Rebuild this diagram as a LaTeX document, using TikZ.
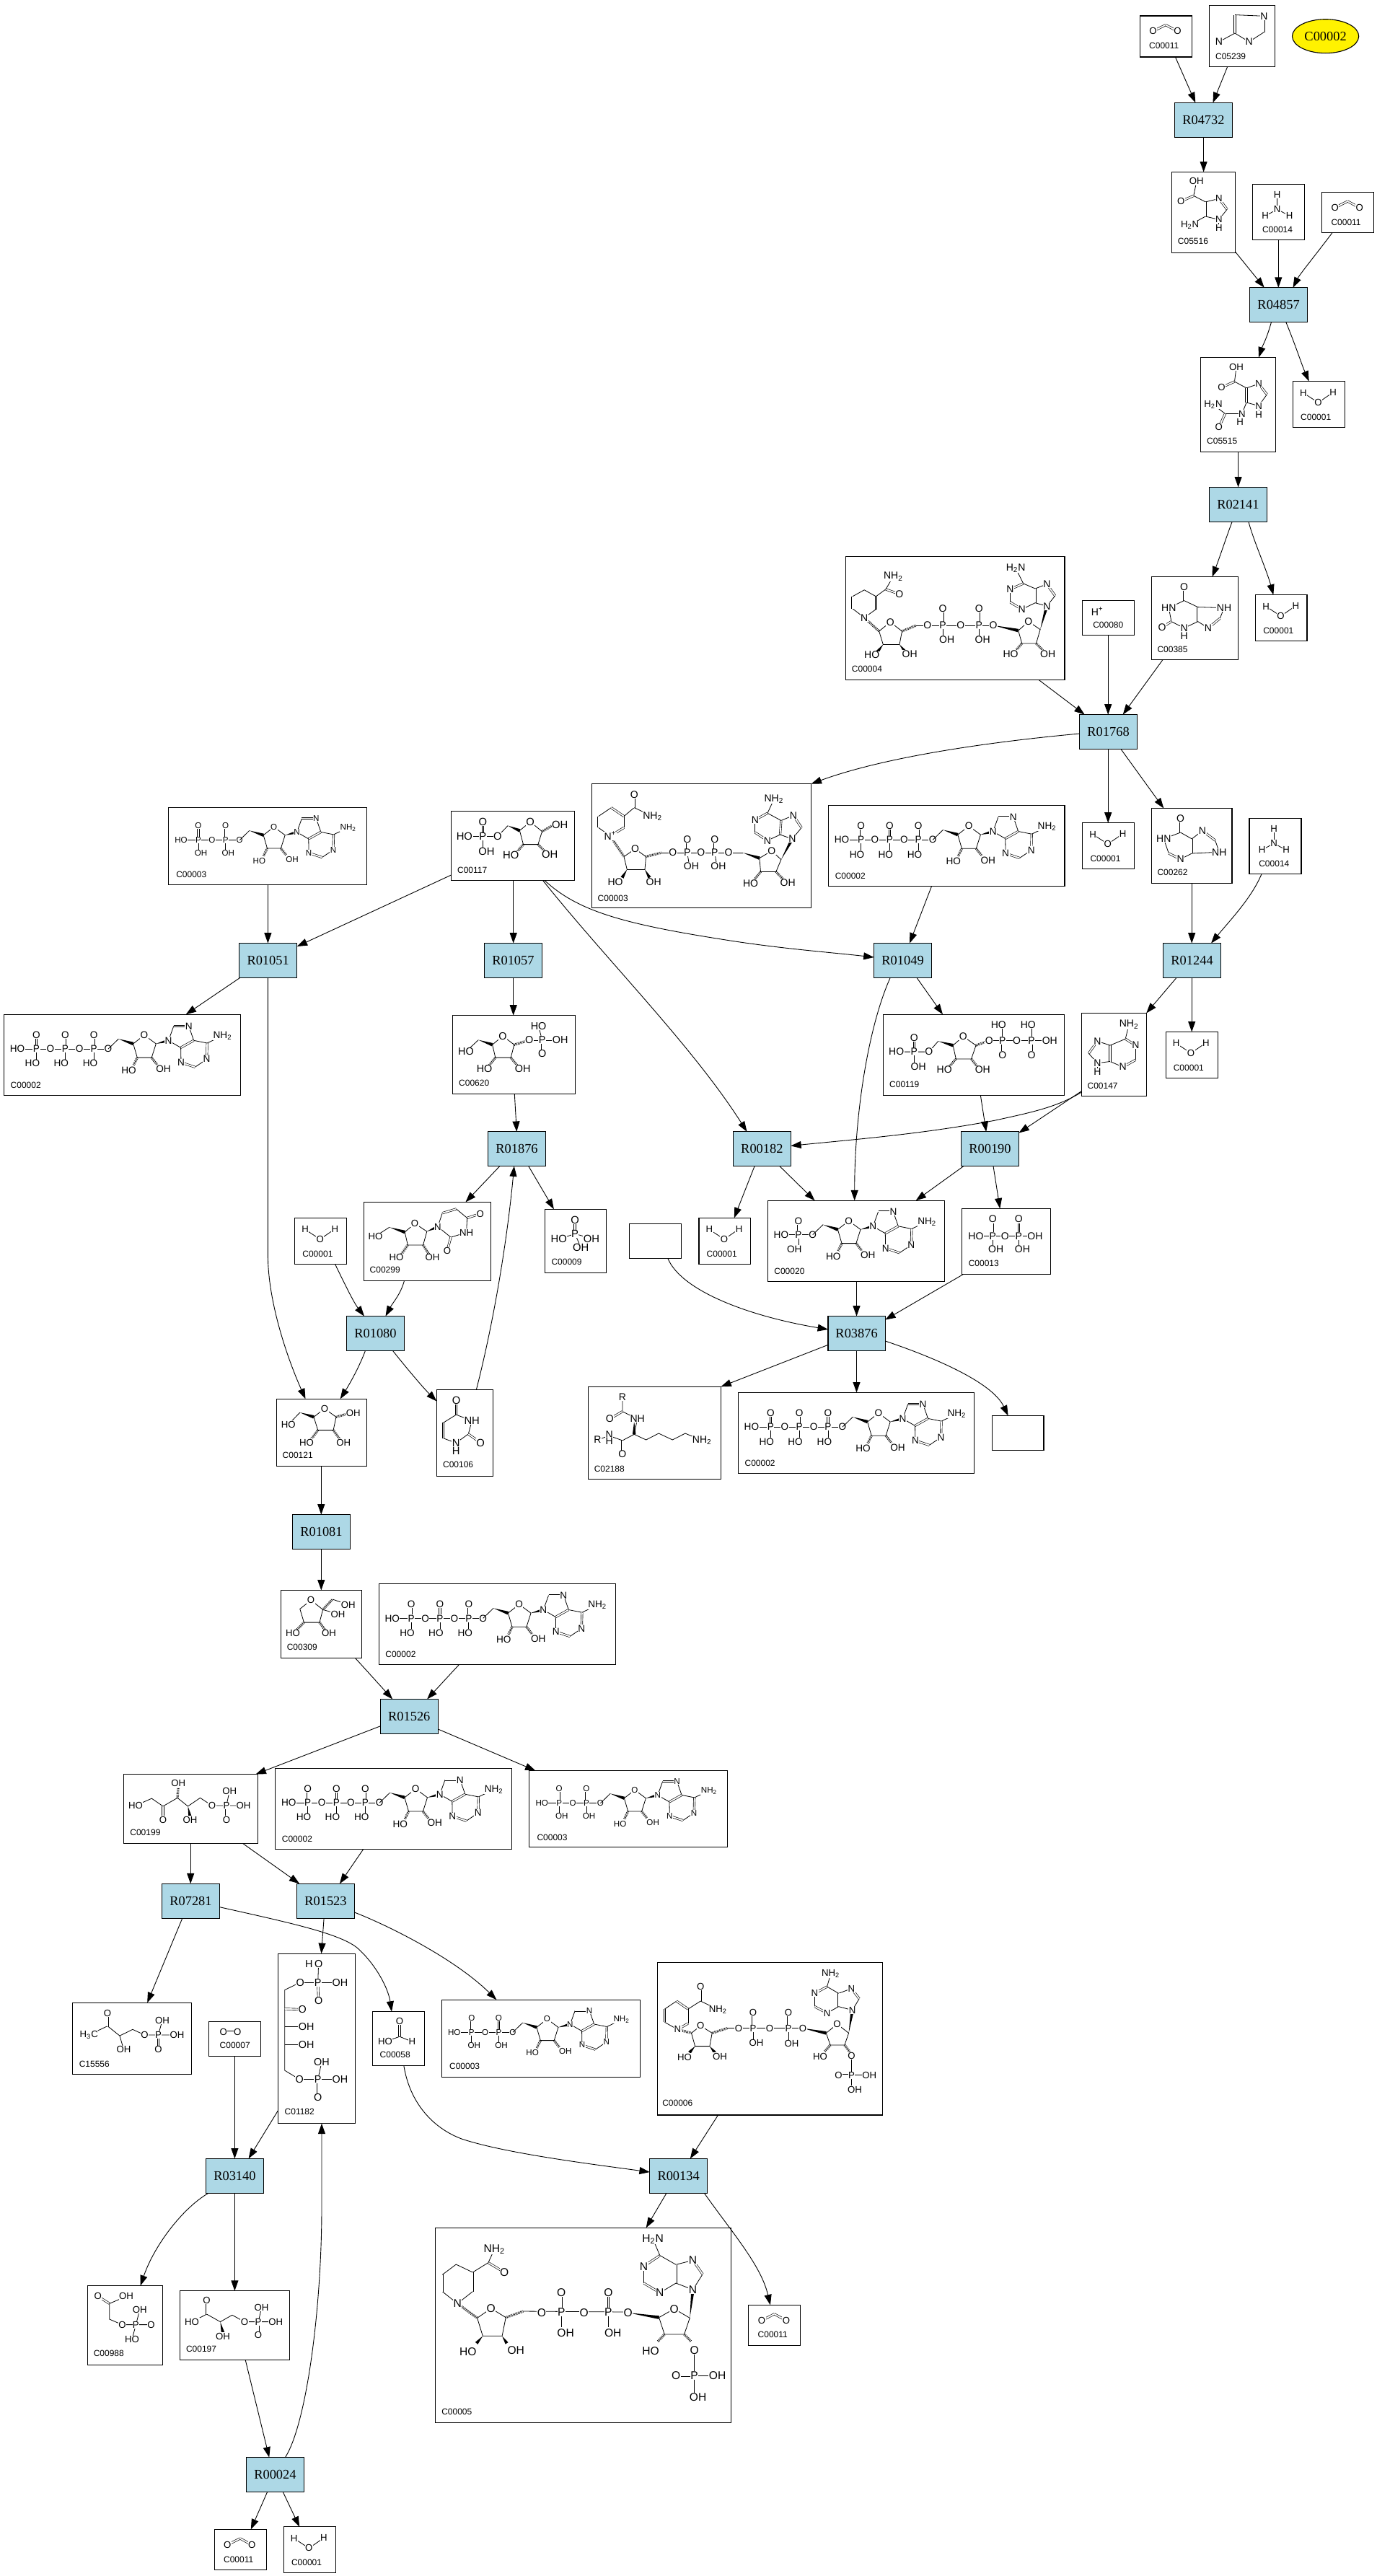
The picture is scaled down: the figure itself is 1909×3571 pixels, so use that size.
\documentclass[tikz,border=0pt]{standalone}
\usepackage{fontspec}
\setmainfont{Liberation Serif}
\newfontfamily\atf{Liberation Sans}
\usetikzlibrary{arrows.meta,calc,shapes.geometric}
\newcount\atomno
\def\atsz{6.6}
\tikzset{
  cpd/.style={draw=black,fill=white,line width=.55pt,rectangle,inner sep=0pt,outer sep=0pt},
  rxn/.style={draw=black,fill=rxnblue,line width=.55pt,rectangle,inner sep=0pt,outer sep=0pt,font=\fontsize{9.2}{11}\selectfont},
  rxnedge/.style={draw=black,line width=.45pt,-{Triangle[length=7.2pt,width=5pt]}},
  bond/.style={draw=black,line width=.4pt},
  dbl/.style={draw=black,line width=.33pt,double,double distance=.9pt},
  hashb/.style={draw=black,line width=1.7pt,dash pattern=on .35pt off .55pt},
  atomlbl/.style={font=\atf\fontsize{\atsz}{\atsz}\selectfont,inner sep=.25pt,fill=white},
  idlbl/.style={font=\atf\fontsize{6}{7}\selectfont,inner sep=0pt,anchor=west}
}
\definecolor{rxnblue}{HTML}{ADD8E6}
\newcommand{\mAt}[2]{\global\advance\atomno by 1 \node[atomlbl] (atom\the\atomno) at (#1) {#2};}
\newcommand{\mLb}[2]{\global\advance\atomno by 1 \node[idlbl] (atom\the\atomno) at (#1) {#2};}
\newcommand{\mB}[1]{\draw[bond] #1;}
\newcommand{\mD}[1]{\draw[dbl] #1;}
\newcommand{\mW}[2]{\fill ($(#1)$) -- ($(#2)!1.15pt!90:(#1)$) -- ($(#2)!-1.15pt!90:(#1)$) -- cycle;}
\newcommand{\mH}[2]{\draw[hashb] (#1) -- (#2);}
\newcommand{\cbox}[5]{\node[cpd,minimum width={(#4-#2)*0.5pt},minimum height={(#5-#3)*0.5pt}] (#1) at ({(#2+#4)/2},{(#3+#5)/2}) {};}
\newcommand{\rbox}[5]{\node[rxn,minimum width={(#4-#2)*0.5pt},minimum height={(#5-#3)*0.5pt}] (#1) at ({(#2+#4)/2},{(#3+#5)/2}) {#1};}
\newcommand{\inbox}[2]{\begin{scope}[shift={(#1.north west)}]#2\end{scope}}
\newcommand{\NHtwo}{NH\textsubscript{2}}
\newcommand{\HtwoN}{H\textsubscript{2}N}
% --- small molecules
\newcommand{\mCOtwo}{\mD{(18,21.4)--(35.6,12.5)}\mD{(35.6,12.5)--(52,21.4)}\mAt{18,21.4}{O}\mAt{52,21.4}{O}\mLb{12.4,41.5}{C00011}}
\newcommand{\mWater}{\mB{(14.4,16)--(35,29.5)--(55.7,15.2)}\mAt{14.4,16}{H}\mAt{35,29.5}{O}\mAt{55.7,15.2}{H}\mLb{10.3,49.6}{C00001}}
\newcommand{\mAmmonia}{\mB{(34,14.7)--(34,34.8)}\mB{(17.5,43.8)--(34,34.8)--(51,43.8)}\mAt{34,14.7}{H}\mAt{34,34.8}{N}\mAt{17.5,43.8}{H}\mAt{51,43.8}{H}\mLb{12.9,62.5}{C00014}}
% --- adenosine, origin at the 5'-O
\newcommand{\mAdo}{%
 \mB{(0,0)--(14.3,-13.9)}\mW{14.3,-13.9}{34.7,-7.2}
 \mB{(34.7,-7.2)--(50,-19.2)--(66.3,-7.2)--(60.2,12)--(40.3,12)--cycle}
 \mH{40.3,12}{35,23}\mH{60.2,12}{68,22}\mW{66.3,-7.2}{83.6,-11.6}
 \mB{(83.6,-11.6)--(90.8,-31.7)}\mD{(90.8,-31.7)--(111.7,-31.7)}\mB{(111.7,-31.7)--(118.6,-11.8)}
 \mD{(118.6,-11.8)--(100.6,-1.8)}\mB{(100.6,-1.8)--(83.6,-11.6)}\mB{(118.6,-11.8)--(137.2,-8.1)}
 \mD{(137.2,-8.1)--(136.6,14.2)}\mB{(136.6,14.2)--(120.4,25.2)}\mD{(120.4,25.2)--(101,18.7)}\mB{(101,18.7)--(100.6,-1.8)}
 \mB{(137.2,-8.1)--(158.6,-18.3)}
 \mAt{50,-19.2}{O}\mAt{83.6,-11.6}{N}\mAt{111.7,-31.7}{N}\mAt{136.6,14.2}{N}\mAt{101,18.7}{N}\mAt{158.6,-18.3}{\NHtwo}
 \mAt{28.6,29.9}{HO}\mAt{76.6,28.1}{OH}}
\newcommand{\mATP}{\def\atsz{6.8}%
 \mB{(18.4,47.8)--(144.4,47.8)}
 \foreach \px/\hx in {44.9/39.3,84.7/79.1,124.5/119.4}{\mD{(\px,28.1)--(\px,47.8)}\mB{(\px,47.8)--(\px,66)}\mAt{\px,28.1}{O}\mAt{\px,47.8}{P}\mAt{\hx,67.9}{HO}}
 \mAt{18.4,47.8}{HO}\mAt{64.3,47.8}{O}\mAt{104.6,47.8}{O}\mAt{144.4,47.8}{O}
 \begin{scope}[shift={(144.4,47.8)}]\mAdo\end{scope}
 \mLb{8.7,97.8}{C00002}}
\newcommand{\mADP}{\def\atsz{5.8}%
 \mB{(17.3,45)--(98.5,45)}
 \foreach \px/\hx in {41.3/44.9,79/82.6}{\mD{(\px,25)--(\px,45)}\mB{(\px,45)--(\px,61)}\mAt{\px,25}{O}\mAt{\px,45}{P}\mAt{\hx,63}{OH}}
 \mAt{17.3,45}{HO}\mAt{60.2,45}{O}\mAt{98.5,45}{O}
 \begin{scope}[shift={(98.5,45)},scale=.95]\mAdo\end{scope}
 \mLb{10.2,92.4}{C00003}}
\newcommand{\mAMP}{\def\atsz{6.8}%
 \mB{(18.4,47.3)--(62.2,47.3)}\mD{(42.4,28)--(42.4,47.3)}\mB{(42.4,47.3)--(42.4,65)}
 \mAt{18.4,47.3}{HO}\mAt{42.4,47.3}{P}\mAt{62.2,47.3}{O}\mAt{42.4,28}{O}\mAt{36.8,67.4}{OH}
 \begin{scope}[shift={(62.2,47.3)}]\mAdo\end{scope}
 \mLb{8.5,97.8}{C00020}}
% --- NAD family
\newcommand{\mNADplus}{\def\atsz{7}%
 \mB{(25.5,72.3)--(9.2,60.7)}\mD{(9.2,60.7)--(9.2,45)}\mB{(9.2,45)--(26.9,33)}\mD{(26.9,33)--(44.5,45)}\mB{(44.5,45)--(44.5,60.7)}\mD{(44.5,60.7)--(25.5,72.3)}
 \mB{(44.5,45)--(58.7,33)}\mD{(58.7,33)--(58.7,14.7)}\mB{(58.7,33)--(84.2,45)}
 \mH{25.5,72.3}{44.5,100.9}
 \mB{(44.5,100.9)--(60,90.2)--(75,100.9)--(73.5,118.8)--(48.8,118.8)--cycle}
 \mW{48.8,118.8}{42,130}\mW{73.5,118.8}{80,130}\mH{75,100.9}{96.2,95.5}
 \mB{(96.2,95.5)--(209.3,95.5)}\mW{209.3,95.5}{232.4,103}
 \mD{(132.2,76.8)--(132.2,95.5)}\mD{(170.4,76.8)--(170.4,95.5)}\mB{(132.2,95.5)--(135,112)}\mB{(170.4,95.5)--(173,112)}
 \mB{(232.4,103)--(249.4,92.9)--(262.4,105)--(255.3,121.9)--(234,121.9)--cycle}
 \mH{234,121.9}{226,132}\mH{255.3,121.9}{265,132}\mW{262.4,105}{277.9,76.3}
 \mB{(277.9,76.3)--(290.7,60.7)}\mD{(290.7,60.7)--(279.3,43.8)}\mB{(279.3,43.8)--(262.4,50.9)}\mD{(262.4,50.9)--(261,70.5)}\mB{(261,70.5)--(277.9,76.3)}
 \mB{(262.4,50.9)--(243.5,40.6)}\mD{(243.5,40.6)--(226.3,50)}\mB{(226.3,50)--(226.3,67.4)}\mD{(226.3,67.4)--(243.3,78.6)}\mB{(243.3,78.6)--(261,70.5)}\mB{(243.5,40.6)--(252.5,21.4)}
 \mAt{25.5,72.3}{N\textsuperscript{+}}\mAt{58.7,14.7}{O}\mAt{84.2,45}{\NHtwo}\mAt{60,90.2}{O}\mAt{32.5,135.7}{HO}\mAt{85.6,135.7}{OH}
 \mAt{112.4,95.5}{O}\mAt{132.2,95.5}{P}\mAt{151.3,95.5}{O}\mAt{170.4,95.5}{P}\mAt{189.5,95.5}{O}
 \mAt{132.2,76.8}{O}\mAt{170.4,76.8}{O}\mAt{137.9,114.3}{OH}\mAt{175.4,114.3}{OH}
 \mAt{249.4,92.9}{O}\mAt{220,138.4}{HO}\mAt{271.6,137.5}{OH}\mAt{277.9,76.3}{N}\mAt{279.3,43.8}{N}\mAt{226.3,50}{N}\mAt{243.3,78.6}{N}\mAt{252.5,21.4}{\NHtwo}
 \mLb{7.8,158.5}{C00003}}
\newcommand{\mNADH}{\def\atsz{7}%
 \mB{(25.5,84.8)--(9.2,72.3)}\mD{(9.2,72.3)--(9.2,55.4)}\mB{(9.2,55.4)--(25.5,46.4)--(41.7,55.4)}\mD{(41.7,55.4)--(41.7,73.2)}\mB{(41.7,73.2)--(25.5,84.8)}
 \mB{(41.7,55.4)--(55.2,45.5)}\mD{(55.2,45.5)--(74.2,52.2)}\mB{(55.2,45.5)--(65.8,27.7)}
 \mH{25.5,84.8}{46,103.6}
 \mB{(46,103.6)--(61.5,91)--(77.8,103.6)--(74.3,122)--(51.6,122)--cycle}
 \mW{51.6,122}{44,132}\mW{74.3,122}{82,132}\mH{77.8,103.6}{97.6,95.5}
 \mB{(97.6,95.5)--(204.4,95.5)}\mW{204.4,95.5}{239,102.7}
 \mD{(134.4,72.3)--(134.4,95.5)}\mD{(184.6,72.3)--(184.6,95.5)}\mB{(134.4,95.5)--(134.4,110)}\mB{(184.6,95.5)--(184.6,110)}
 \mB{(239,102.7)--(253.2,90.2)--(269.4,101.3)--(263.8,120.5)--(244,120.5)--cycle}
 \mH{244,120.5}{236,130}\mH{263.8,120.5}{273,130}\mW{269.4,101.3}{278.6,68.8}
 \mB{(278.6,68.8)--(290,54.5)}\mD{(290,54.5)--(278.6,38.4)}\mB{(278.6,38.4)--(262.4,44.6)}\mD{(262.4,44.6)--(262.4,64.3)}\mB{(262.4,64.3)--(278.6,68.8)}
 \mB{(262.4,44.6)--(246,37.5)}\mD{(246,37.5)--(227.7,45.5)}\mB{(227.7,45.5)--(227.7,63.4)}\mD{(227.7,63.4)--(244,73.2)}\mB{(244,73.2)--(262.4,64.3)}\mB{(246,37.5)--(235.5,16.5)}
 \mAt{25.5,84.8}{N}\mAt{74.2,52.2}{O}\mAt{65.8,27.7}{\NHtwo}\mAt{61.5,91}{O}\mAt{36,136.6}{HO}\mAt{88.4,134.8}{OH}
 \mAt{113.2,95.5}{O}\mAt{134.4,95.5}{P}\mAt{159,95.5}{O}\mAt{184.6,95.5}{P}\mAt{204.4,95.5}{O}
 \mAt{134.4,72.3}{O}\mAt{184.6,72.3}{O}\mAt{140,115.6}{OH}\mAt{189.5,115.6}{OH}
 \mAt{253.2,90.2}{O}\mAt{228.4,134.8}{HO}\mAt{280,134.8}{OH}\mAt{278.6,68.8}{N}\mAt{278.6,38.4}{N}\mAt{227.7,45.5}{N}\mAt{244,73.2}{N}\mAt{235.5,16.5}{\HtwoN}
 \mLb{7.8,156}{C00004}}
\newcommand{\mNADPH}{\def\atsz{7.8}%
 \mB{(30.6,105)--(9.6,88.3)}\mD{(9.6,88.3)--(9.6,65)}\mB{(9.6,65)--(28.7,50.7)--(51.7,61.7)}\mD{(51.7,61.7)--(51.7,88.3)}\mB{(51.7,88.3)--(30.6,105)}
 \mB{(51.7,61.7)--(73.3,48.3)}\mD{(73.3,48.3)--(95.7,61.7)}\mB{(73.3,48.3)--(81.7,30)}
 \mH{30.6,105}{58,125}
 \mB{(58,125)--(77.2,111.7)--(97.6,124.3)--(92.5,150)--(65.7,150)--cycle}
 \mW{65.7,150}{57,160}\mW{92.5,150}{99,160}\mH{97.6,124.3}{121.8,115.7}
 \mB{(121.8,115.7)--(267.2,116.7)}\mW{267.2,117.7}{310,124.3}
 \mD{(174.7,90)--(174.7,116.7)}\mD{(239.8,90)--(239.8,116.7)}\mB{(174.7,116.7)--(174.7,138)}\mB{(239.8,116.7)--(239.8,138)}
 \mB{(310,124.3)--(331,112.3)--(352.7,125)--(345,147.7)--(317.6,147.7)--cycle}
 \mH{317.6,147.7}{308,158}\mH{345,147.7}{355,158}\mW{352.7,125}{357,85.7}
 \mB{(357,85.7)--(370.5,64.3)}\mD{(370.5,64.3)--(357,45)}\mB{(357,45)--(333.5,51)}\mD{(333.5,51)--(333.5,76.7)}\mB{(333.5,76.7)--(357,85.7)}
 \mB{(333.5,51)--(311.2,38.3)}\mD{(311.2,38.3)--(289,53.3)}\mB{(289,53.3)--(289,76.7)}\mD{(289,76.7)--(311.2,90)}\mB{(311.2,90)--(333.5,76.7)}\mB{(311.2,38.3)--(301.6,15.7)}
 \mB{(359,169.7)--(359,235)}\mD{(333.5,205)--(359,205)}\mB{(359,205)--(391,205)}
 \mAt{30.6,105}{N}\mAt{95.7,61.7}{O}\mAt{81.7,30}{\NHtwo}\mAt{77.2,111.7}{O}\mAt{45.3,171.7}{HO}\mAt{111.6,170}{OH}
 \mAt{147.3,117.7}{O}\mAt{174.7,116.7}{P}\mAt{206,117.7}{O}\mAt{239.8,116.7}{P}\mAt{267.2,117.7}{O}
 \mAt{174.7,90}{O}\mAt{239.8,90}{O}\mAt{180.5,145.7}{OH}\mAt{246.2,145.7}{OH}
 \mAt{331,112.3}{O}\mAt{298.5,171}{HO}\mAt{357,85.7}{N}\mAt{357,45}{N}\mAt{289,53.3}{N}\mAt{311.2,90}{N}\mAt{301.6,15.7}{\HtwoN}
 \mAt{359,169.7}{O}\mAt{359,205}{P}\mAt{333.5,205}{O}\mAt{391,205}{OH}\mAt{364,235}{OH}
 \mLb{8.3,255}{C00005}}
\newcommand{\mNADP}{\def\atsz{6.6}%
 \mB{(27.4,93)--(9.6,83)}\mD{(9.6,83)--(9.6,64.7)}\mB{(9.6,64.7)--(26,53.7)}\mD{(26,53.7)--(42,64.7)}\mB{(42,64.7)--(42,84.7)}\mD{(42,84.7)--(27.4,93)}
 \mB{(42,64.7)--(59.3,53.7)}\mD{(59.3,53.7)--(59.3,33.7)}\mB{(59.3,53.7)--(83.5,65.3)}
 \mH{27.4,93}{46.6,98}
 \mB{(46.6,98)--(59.3,88)--(75.3,98)--(72,116.3)--(51.7,116.3)--cycle}
 \mW{51.7,116.3}{44,125}\mW{72,116.3}{79,125}\mH{75.3,98}{96.3,91.3}
 \mB{(96.3,91.3)--(201,91.3)}\mW{201,91.3}{233.4,98}
 \mD{(132,69.7)--(132,91.3)}\mD{(181,69.7)--(181,91.3)}\mB{(132,91.3)--(132,108)}\mB{(181,91.3)--(181,108)}
 \mB{(233.4,98)--(248.7,85.7)--(264.7,98)--(259,114.7)--(239.2,114.7)--cycle}
 \mH{239.2,114.7}{231,124}\mH{259,114.7}{266,124}\mW{264.7,98}{269.8,66.3}
 \mB{(269.8,66.3)--(279.3,50.3)}\mD{(279.3,50.3)--(268.5,36.3)}\mB{(268.5,36.3)--(250.7,43)}\mD{(250.7,43)--(250.7,61.3)}\mB{(250.7,61.3)--(269.8,66.3)}
 \mB{(250.7,43)--(234.7,33.7)}\mD{(234.7,33.7)--(217.5,43)}\mB{(217.5,43)--(217.5,61.3)}\mD{(217.5,61.3)--(234.7,70.3)}\mB{(234.7,70.3)--(250.7,61.3)}\mB{(234.7,33.7)--(239.8,15.7)}
 \mB{(268.5,129.7)--(268.5,176)}\mD{(250.7,156.3)--(268.5,156.3)}\mB{(268.5,156.3)--(293.4,156.3)}
 \mAt{27.4,93}{N}\mAt{59.3,33.7}{O}\mAt{83.5,65.3}{\NHtwo}\mAt{59.3,88}{O}\mAt{37,131.3}{HO}\mAt{86,130.3}{OH}
 \mAt{112.2,91.3}{O}\mAt{132,91.3}{P}\mAt{155,91.3}{O}\mAt{181,91.3}{P}\mAt{201,91.3}{O}
 \mAt{132,69.7}{O}\mAt{181,69.7}{O}\mAt{136.5,112}{OH}\mAt{185.6,113}{OH}
 \mAt{248.7,85.7}{O}\mAt{225,130.3}{HO}\mAt{269.8,66.3}{N}\mAt{268.5,36.3}{N}\mAt{217.5,43}{N}\mAt{234.7,70.3}{N}\mAt{239.8,15.7}{\NHtwo}
 \mAt{268.5,129.7}{O}\mAt{268.5,156.3}{P}\mAt{250.7,156.3}{O}\mAt{293.4,156.3}{OH}\mAt{273,176.3}{OH}
 \mLb{6,195}{C00006}}
\begin{document}
\begin{tikzpicture}[x=0.5pt,y=-0.5pt]
\useasboundingbox (0,0) rectangle (1909,3571);
\fill[white] (0,0) rectangle (1909,3571);
% ================ compounds
\cbox{Ca}{1580.4}{22}{1652.6}{79}
\cbox{Cb}{1676.4}{7.6}{1767.7}{92.4}
\node[ellipse,draw=black,fill=yellow,line width=.55pt,inner sep=0pt,minimum width=46.1pt,minimum height=23.5pt,font=\fontsize{9.2}{11}\selectfont] (Cyellow) at (1837.6,50.2) {C00002};
\cbox{Cc}{1624.8}{238.4}{1712.5}{350.4}
\cbox{Cd}{1736.7}{255.4}{1808.5}{332.6}
\cbox{Ce}{1832.7}{266.5}{1904.4}{322.3}
\cbox{Cf}{1664.5}{495.5}{1768.7}{626.3}
\cbox{Cg}{1792.5}{528.6}{1864.7}{592.4}
\cbox{NADH}{1172.7}{771.4}{1476}{942.4}
\cbox{Xan}{1596.3}{799.6}{1716.5}{914.7}
\cbox{Wa}{1740.6}{824.6}{1812}{888.4}
\cbox{Hplus}{1500.8}{832.6}{1572.3}{880.4}
\cbox{NADplus}{820.5}{1086.6}{1124.6}{1258.9}
\cbox{ATPa}{1148.7}{1116.5}{1476}{1228.6}
\cbox{Wb}{1500.8}{1140.6}{1572.3}{1204.5}
\cbox{Hyp}{1596.3}{1120.5}{1708}{1224.6}
\cbox{Am}{1732}{1134.4}{1804}{1211.6}
\cbox{ADPa}{233.7}{1119.6}{508.7}{1226.3}
\cbox{Rib}{625.5}{1124.6}{796.4}{1220.5}
\cbox{ATPb}{5.6}{1406.3}{333.7}{1518.8}
\cbox{UMPr}{627.6}{1407.6}{797.4}{1516.5}
\cbox{PRPP}{1224.3}{1406.3}{1475.4}{1518.8}
\cbox{Ade}{1499.4}{1404.5}{1589.2}{1519.6}
\cbox{Wc}{1616.1}{1430.4}{1688.2}{1494.6}
\cbox{Wd}{408.7}{1688.4}{480.6}{1752.2}
\cbox{Urd}{504.6}{1666.5}{680.6}{1775.4}
\cbox{Pi}{755.3}{1676.3}{840.6}{1764.7}
\cbox{Blanka}{872.4}{1696.4}{944.7}{1744.6}
\cbox{We}{969}{1688.4}{1040.5}{1752.2}
\cbox{AMP}{1064.5}{1664.3}{1309.2}{1776.3}
\cbox{PPi}{1333.9}{1675.4}{1456.3}{1766.5}
\cbox{RibF}{383.3}{1939.3}{508.8}{2032.6}
\cbox{Ura}{605.3}{1926.3}{683.7}{2046.4}
\cbox{Lys}{815.6}{1922.3}{999.4}{2050.4}
\cbox{ATPc}{1023.5}{1930.4}{1350.9}{2042.4}
\cbox{Blankb}{1375.7}{1962.5}{1447}{2010.3}
\cbox{Rbl}{389.4}{2204.5}{501.5}{2298.7}
\cbox{ATPd}{525.3}{2195.5}{853.6}{2307.6}
\cbox{RuP}{171.5}{2459.5}{357.6}{2555.3}
\cbox{ATPe}{381.8}{2451.2}{709.7}{2563.6}
\cbox{ADPb}{733.9}{2454.6}{1008.5}{2560.7}
\cbox{DHB}{100.4}{2776.3}{265.6}{2875.5}
\cbox{Oxy}{289.3}{2802.7}{361.6}{2850.3}
\cbox{RuBP}{385.3}{2708.1}{492.4}{2943.7}
\cbox{Fmt}{516.5}{2788.6}{588.4}{2863.2}
\cbox{ADPc}{612.5}{2772.2}{887.6}{2879.7}
\cbox{NADP}{911.9}{2720.3}{1223.1}{2932}
\cbox{PG}{121.4}{3168.6}{225.4}{3278.5}
\cbox{TPG}{249.6}{3175.7}{401.3}{3271.4}
\cbox{NADPH}{603.6}{3088.3}{1013.7}{3358.3}
\cbox{COd}{1037.9}{3195.3}{1109.3}{3251.3}
\cbox{COc}{297.3}{3506.4}{369.6}{3562.2}
\cbox{Wf}{393.3}{3502.9}{465.6}{3566.3}
% ================ reactions
\rbox{R04732}{1628.4}{142.4}{1708.4}{190.6}
\rbox{R04857}{1732.6}{398.7}{1812.6}{446.4}
\rbox{R02141}{1676.4}{675.4}{1756.4}{723.6}
\rbox{R01768}{1496.6}{990.6}{1576.5}{1038.4}
\rbox{R01049}{1211.6}{1307.6}{1291.5}{1355.4}
\rbox{R01244}{1612.6}{1307.6}{1692.5}{1355.4}
\rbox{R01051}{331.6}{1307.6}{411.7}{1355.4}
\rbox{R01057}{671.4}{1307.6}{751.5}{1355.4}
\rbox{R01876}{676.5}{1568.8}{756.6}{1616.5}
\rbox{R00182}{1016.4}{1568.8}{1096.3}{1616.5}
\rbox{R00190}{1332.5}{1568.8}{1412.4}{1616.5}
\rbox{R01080}{480.5}{1824.6}{560.5}{1872.3}
\rbox{R03876}{1148}{1824.6}{1227.2}{1872.3}
\rbox{R01081}{405.5}{2099.6}{485.5}{2147.3}
\rbox{R01526}{527.3}{2355.5}{607.3}{2403.6}
\rbox{R07281}{224.8}{2611.3}{304.2}{2659.4}
\rbox{R01523}{411.5}{2611.3}{491.5}{2659.4}
\rbox{R03140}{285.3}{2992.4}{365.6}{3040.6}
\rbox{R00134}{900.8}{2992.5}{980.5}{3040.7}
\rbox{R00024}{341.5}{3406.5}{421.4}{3454.7}
% ================ connectors
\draw[rxnedge] (Ca.south -| 1629.4,0) -- (R04732.north -| 1657.3,0);
\draw[rxnedge] (Cb.south -| 1701.7,0) -- (R04732.north -| 1681.5,0);
\draw[rxnedge] (R04732.south -| 1668.6,0) -- (Cc.north -| 1668.6,0);
\draw[rxnedge] (Cc.east |- 0,349) -- (R04857.north -| 1752.7,0);
\draw[rxnedge] (Cd.south -| 1772.3,0) -- (R04857.north -| 1772.3,0);
\draw[rxnedge] (Ce.south -| 1847.2,0) .. controls (1825,352) and (1802,380) .. (R04857.north -| 1792.5,0);
\draw[rxnedge] (R04857.south -| 1762.5,0) .. controls (1756,470) and (1750,480) .. (Cf.north -| 1745,0);
\draw[rxnedge] (R04857.south -| 1782.7,0) .. controls (1796.6,480) and (1804,504) .. (Cg.north -| 1814.7,0);
\draw[rxnedge] (Cf.south -| 1716.6,0) -- (R02141.north -| 1716.6,0);
\draw[rxnedge] (R02141.south -| 1708,0) .. controls (1700,745) and (1690,775) .. (Xan.north -| 1680.5,0);
\draw[rxnedge] (R02141.south -| 1731,0) .. controls (1738,750) and (1756,790) .. (Wa.north -| 1765.3,0);
\draw[rxnedge] (NADH.south -| 1440,0) -- (R01768.north -| 1503.7,0);
\draw[rxnedge] (Hplus.south -| 1536.2,0) -- (R01768.north -| 1536.2,0);
\draw[rxnedge] (Xan.south -| 1611.9,0) -- (R01768.north -| 1556.7,0);
\draw[rxnedge] (R01768.west |- 0,1017) .. controls (1365.8,1029) and (1224.3,1050) .. (NADplus.north east);
\draw[rxnedge] (R01768.south -| 1536.2,0) -- (Wb.north -| 1536.2,0);
\draw[rxnedge] (R01768.south -| 1553.9,0) -- (Hyp.north -| 1613.3,0);
\draw[rxnedge] (ATPa.south -| 1291.5,0) -- (R01049.north -| 1261,0);
\draw[rxnedge] (Hyp.south -| 1652.2,0) -- (R01244.north -| 1652.2,0);
\draw[rxnedge] (Am.south -| 1749,0) .. controls (1735,1245) and (1705,1276) .. (R01244.north -| 1679,0);
\draw[rxnedge] (Rib.south -| 755,0) .. controls (800,1262) and (860,1280) .. (1000,1302) .. controls (1080,1315) and (1150,1320) .. (R01049.west |- 0,1327);
\draw[rxnedge] (Rib.south -| 752.6,0) .. controls (840,1330) and (960,1450) .. (R00182.north -| 1035.5,0);
\draw[rxnedge] (Rib.south -| 711.7,0) -- (R01057.north -| 711.7,0);
\draw[rxnedge] (Rib.west |- 0,1213) -- (R01051.east |- 0,1312);
\draw[rxnedge] (ADPa.south -| 371.4,0) -- (R01051.north -| 371.4,0);
\draw[rxnedge] (R01051.south -| 332.7,0) -- (ATPb.north -| 257.7,0);
\draw[rxnedge] (R01051.south -| 371.4,0) -- (371.4,1740) .. controls (371.4,1800) and (395,1875) .. (RibF.north -| 423.5,0);
\draw[rxnedge] (R01057.south -| 711.7,0) -- (UMPr.north -| 711.7,0);
\draw[rxnedge] (UMPr.south -| 713.3,0) -- (R01876.north -| 716.3,0);
\draw[rxnedge] (R01876.south -| 692.9,0) -- (Urd.north -| 645.4,0);
\draw[rxnedge] (R01876.south -| 732.7,0) -- (Pi.north -| 767.9,0);
\draw[rxnedge] (Ura.north -| 660.4,0) .. controls (685,1830) and (703,1720) .. (R01876.south -| 712.8,0);
\draw[rxnedge] (Wd.south -| 464.4,0) .. controls (478,1780) and (490,1805) .. (R01080.north -| 505,0);
\draw[rxnedge] (Urd.south -| 560.5,0) .. controls (555,1795) and (545,1805) .. (R01080.north -| 534.5,0);
\draw[rxnedge] (R01080.south -| 506.5,0) .. controls (498,1895) and (485,1918) .. (RibF.north -| 471.7,0);
\draw[rxnedge] (R01080.south -| 544.4,0) .. controls (560,1892) and (585,1922) .. (Ura.west |- 0,1942.4);
\draw[rxnedge] (RibF.south -| 445.3,0) -- (R01081.north -| 445.3,0);
\draw[rxnedge] (R01081.south -| 445.3,0) -- (Rbl.north -| 445.3,0);
\draw[rxnedge] (Rbl.south -| 492.7,0) -- (R01526.north -| 544.2,0);
\draw[rxnedge] (ATPd.south -| 636.4,0) -- (R01526.north -| 592.1,0);
\draw[rxnedge] (R01526.west |- 0,2392.8) -- (RuP.north -| 354.5,0);
\draw[rxnedge] (R01526.east |- 0,2397) -- (ADPb.north -| 742.4,0);
\draw[rxnedge] (RuP.south -| 264.2,0) -- (R07281.north -| 264.2,0);
\draw[rxnedge] (RuP.south -| 336.4,0) -- (R01523.north -| 415.2,0);
\draw[rxnedge] (ATPe.south -| 503.6,0) -- (R01523.north -| 470.9,0);
\draw[rxnedge] (R07281.south -| 252.7,0) -- (DHB.north -| 204.2,0);
\draw[rxnedge] (R07281.east |- 0,2643.6) .. controls (400,2665) and (470,2680) .. (495,2700) .. controls (520,2722) and (538,2755) .. (Fmt.north -| 543,0);
\draw[rxnedge] (R01523.south -| 449.1,0) -- (RuBP.north -| 445.5,0);
\draw[rxnedge] (R01523.east |- 0,2651) .. controls (540,2670) and (630,2715) .. (ADPc.north -| 688.4,0);
\draw[rxnedge] (Fmt.south -| 559.8,0) .. controls (568,2915) and (600,2950) .. (640,2965) .. controls (700,2985) and (820,3000) .. (R00134.west |- 0,3011);
\draw[rxnedge] (NADP.south -| 995.5,0) -- (R00134.north -| 956.8,0);
\draw[rxnedge] (R00134.south -| 923.7,0) -- (NADPH.north -| 895.7,0);
\draw[rxnedge] (R00134.south -| 976.7,0) .. controls (1015,3095) and (1055,3140) .. (COd.north -| 1067.9,0);
\draw[rxnedge] (Oxy.south -| 325.4,0) -- (R03140.north -| 325.4,0);
\draw[rxnedge] (RuBP.west |- 0,2926) -- (R03140.north -| 344.6,0);
\draw[rxnedge] (R03140.south -| 288.4,0) .. controls (255,3060) and (215,3110) .. (PG.north -| 194.6,0);
\draw[rxnedge] (R03140.south -| 325.4,0) -- (TPG.north -| 325.4,0);
\draw[rxnedge] (TPG.south -| 340.2,0) -- (R00024.north -| 373.2,0);
\draw[rxnedge] (R00024.north -| 395.5,0) .. controls (425,3360) and (446,3200) .. (446,3060) -- (RuBP.south -| 446,0);
\draw[rxnedge] (R00024.south -| 370.5,0) -- (COc.north -| 347.8,0);
\draw[rxnedge] (R00024.south -| 392.4,0) -- (Wf.north -| 415.2,0);
\draw[rxnedge] (Ade.west |- 0,1512.5) -- (R00190.east |- 0,1570.5);
\draw[rxnedge] (Ade.west |- 0,1514) .. controls (1465,1535) and (1430,1542) .. (1380,1553) .. controls (1280,1572) and (1180,1580) .. (R00182.east |- 0,1588.4);
\draw[rxnedge] (PRPP.south -| 1359.4,0) -- (R00190.north -| 1367.2,0);
\draw[rxnedge] (R01049.south -| 1271,0) -- (PRPP.north -| 1307,0);
\draw[rxnedge] (R01049.south -| 1234.2,0) .. controls (1205,1420) and (1184.7,1540) .. (AMP.north -| 1184.7,0);
\draw[rxnedge] (R01244.south -| 1631,0) -- (Ade.north -| 1589.2,0);
\draw[rxnedge] (R01244.south -| 1652.2,0) -- (Wc.north -| 1652.2,0);
\draw[rxnedge] (R00182.south -| 1046.1,0) -- (We.north -| 1017.8,0);
\draw[rxnedge] (R00182.south -| 1080.8,0) -- (AMP.north -| 1129.6,0);
\draw[rxnedge] (R00190.south -| 1336,0) -- (AMP.north -| 1269.6,0);
\draw[rxnedge] (R00190.south -| 1377,0) -- (PPi.north -| 1386.3,0);
\draw[rxnedge] (AMP.south -| 1187.5,0) -- (R03876.north -| 1187.5,0);
\draw[rxnedge] (PPi.south -| 1335.4,0) -- (R03876.east |- 0,1829.5);
\draw[rxnedge] (Blanka.south -| 925.9,0) .. controls (945,1790) and (1040,1825) .. (R03876.west |- 0,1842.9);
\draw[rxnedge] (R03876.west |- 0,1864.3) -- (Lys.north east);
\draw[rxnedge] (R03876.south -| 1187.5,0) -- (ATPc.north -| 1187.5,0);
\draw[rxnedge] (R03876.east |- 0,1859) .. controls (1290,1880) and (1375,1915) .. (Blankb.north -| 1397.6,0);
% ================ structures
\inbox{Ca}{\mCOtwo}
\inbox{Ce}{\mCOtwo}
\inbox{COd}{\mCOtwo}
\inbox{COc}{\mCOtwo}
\inbox{Wa}{\mWater}\inbox{Wb}{\mWater}\inbox{Wc}{\mWater}\inbox{Wd}{\mWater}\inbox{We}{\mWater}\inbox{Wf}{\mWater}
\begin{scope}[shift={(Cg.north west)}]\mWater\end{scope}
\inbox{Cd}{\mAmmonia}\inbox{Am}{\mAmmonia}
\inbox{ATPa}{\mATP}\inbox{ATPb}{\mATP}\inbox{ATPc}{\mATP}\inbox{ATPd}{\mATP}\inbox{ATPe}{\mATP}
\inbox{ADPa}{\mADP}\inbox{ADPb}{\mADP}\inbox{ADPc}{\mADP}
\inbox{AMP}{\mAMP}
\inbox{NADplus}{\mNADplus}
\inbox{NADH}{\mNADH}
\inbox{NADPH}{\mNADPH}
\inbox{NADP}{\mNADP}
% C05239
\begin{scope}[shift={(Cb.north west)},]\def\atsz{7}
 \mB{(35.6,13)--(75.9,14.7)}\mD{(75.9,14.7)--(75.9,37)}\mB{(75.9,37)--(55.2,50.4)--(35.6,38.4)}\mD{(35.6,38.4)--(35.6,13)}\mB{(35.6,38.4)--(13.4,50.4)}
 \mAt{75.9,14.7}{N}\mAt{13.4,50.4}{N}\mAt{55.2,50.4}{N}\mLb{8.3,70.5}{C05239}
\end{scope}
% C05516
\begin{scope}[shift={(Cc.north west)}]
 \mB{(34,13)--(30,33)}\mD{(12.4,40.6)--(30,33)}\mB{(30,33)--(46.4,41.5)--(65,37)}\mD{(65,37)--(76.4,51.8)}\mB{(76.4,51.8)--(65,66)--(46.4,61.6)}\mD{(46.4,61.6)--(46.4,41.5)}\mB{(46.4,61.6)--(24.8,73.2)}\mB{(65,66)--(65,77.7)}
 \mAt{34,13}{OH}\mAt{12.4,40.6}{O}\mAt{65,37}{N}\mAt{65,66}{N}\mAt{65,77.7}{H}\mAt{24.8,73.2}{\HtwoN}\mLb{7.7,95.5}{C05516}
\end{scope}
% C05515
\begin{scope}[shift={(Cf.north west)}]
 \mB{(49.5,13)--(47,33.5)}\mD{(29,41.5)--(47,33.5)}\mB{(47,33.5)--(63.5,42.4)--(80.5,36.6)}\mD{(80.5,36.6)--(91.9,51.3)}\mB{(91.9,51.3)--(80.5,67)--(63.5,62.5)}\mD{(63.5,62.5)--(63.5,42.4)}\mB{(80.5,67)--(80.5,79)}\mB{(63.5,62.5)--(57.3,78)--(34,78)--(17.5,65.6)}\mD{(34,78)--(25.3,96.9)}
 \mAt{49.5,13}{OH}\mAt{29,41.5}{O}\mAt{80.5,36.6}{N}\mAt{80.5,67}{N}\mAt{80.5,79}{H}\mAt{57.3,78}{N}\mAt{54.7,89.3}{H}\mAt{17.5,65.6}{\HtwoN}\mAt{25.3,96.9}{O}\mLb{8.3,115.6}{C05515}
\end{scope}
% C00080
\begin{scope}[shift={(Hplus.north west)}]\def\atsz{7}\mAt{20.5,14.7}{H\textsuperscript{+}}\mLb{14.1,33.5}{C00080}\end{scope}
% C00385
\begin{scope}[shift={(Xan.north west)}]\def\atsz{7}
 \mD{(45.3,14.3)--(45.3,33)}\mB{(45.3,33)--(64.4,42)}\mD{(64.4,42)--(64.4,62)}\mB{(64.4,62)--(45.3,71)--(27.6,62)--(24,43)--(45.3,33)}\mD{(27.6,62)--(14.8,70)}\mB{(64.4,42)--(100.7,43)--(95,57.6)}\mD{(95,57.6)--(78.7,71)}\mB{(78.7,71)--(64.4,62)}\mB{(45.3,71)--(45.3,82)}
 \mAt{45.3,14.3}{O}\mAt{24,43}{HN}\mAt{14.8,70}{O}\mAt{45.3,71}{N}\mAt{45.3,82}{H}\mAt{100.7,43}{NH}\mAt{78.7,71}{N}\mLb{7.8,100.4}{C00385}
\end{scope}
% C00262
\begin{scope}[shift={(Hyp.north west)}]\def\atsz{7}
 \mD{(40.3,14.3)--(40.3,33.5)}\mB{(40.3,33.5)--(17,42.4)--(24,62.5)}\mD{(24,62.5)--(40.3,70.5)}\mB{(40.3,70.5)--(56,62.5)}\mD{(56,62.5)--(56,42.4)}\mB{(56,42.4)--(40.3,33.5)}\mB{(56,42.4)--(70.7,31)}\mD{(70.7,31)--(88.4,44.6)}\mB{(88.4,44.6)--(94,60.7)--(56,62.5)}
 \mAt{40.3,14.3}{O}\mAt{17,42.4}{HN}\mAt{40.3,70.5}{N}\mAt{70.7,31}{N}\mAt{94,60.7}{NH}\mLb{7.8,89.3}{C00262}
\end{scope}
% C00147
\begin{scope}[shift={(Ade.north west)}]\def\atsz{7}
 \mB{(65.8,15.6)--(60.8,35.7)}\mD{(60.8,35.7)--(75,44.6)}\mB{(75,44.6)--(75,64.7)}\mD{(75,64.7)--(57.3,74.6)}\mB{(57.3,74.6)--(39.6,67)}\mD{(39.6,67)--(39.6,44.6)}\mB{(39.6,44.6)--(60.8,35.7)}\mB{(39.6,44.6)--(21.9,38.8)}\mD{(21.9,38.8)--(9.9,55.8)}\mB{(9.9,55.8)--(21.9,69.2)--(39.6,67)}\mB{(21.9,69.2)--(21.9,81.3)}
 \mAt{65.8,15.6}{\NHtwo}\mAt{75,44.6}{N}\mAt{57.3,74.6}{N}\mAt{21.9,38.8}{N}\mAt{21.9,69.2}{N}\mAt{21.9,81.3}{H}\mLb{7.8,100.4}{C00147}
\end{scope}
% C00117
\begin{scope}[shift={(Rib.north west)}]\def\atsz{7.4}
 \mB{(18.4,34.8)--(64.3,34.8)--(78.6,20)}\mD{(43.9,14.7)--(43.9,34.8)}\mB{(43.9,34.8)--(43.9,52)}\mW{78.6,20}{94.9,26.8}\mB{(94.9,26.8)--(109.7,14.7)--(126,28)--(120.4,46)--(100,46)--cycle}\mH{100,46}{90,58}\mH{120.4,46}{130,56}\mH{126,28}{140,20}
 \mAt{18.4,34.8}{HO}\mAt{43.9,34.8}{P}\mAt{64.3,34.8}{O}\mAt{43.9,14.7}{O}\mAt{49,55.8}{OH}\mAt{109.7,14.7}{O}\mAt{82.7,61}{HO}\mAt{136.7,60}{OH}\mAt{150.6,19.2}{OH}\mLb{8.2,81.3}{C00117}
\end{scope}
% C00620
\begin{scope}[shift={(UMPr.north west)}]\def\atsz{7.2}
 \mB{(18.4,50)--(35.7,34)}\mW{35.7,34}{55,40.6}\mB{(55,40.6)--(69.4,28.6)--(85.2,40.6)--(80.6,58.5)--(59.2,58.5)--cycle}\mH{59.2,58.5}{50,70}\mH{80.6,58.5}{90,70}\mH{85.2,40.6}{106,34.4}\mB{(106,34.4)--(149,34.4)}\mB{(124,34.4)--(119,14.7)}\mD{(124,34.4)--(124,53)}
 \mAt{18.4,50}{HO}\mAt{69.4,28.6}{O}\mAt{44,74}{HO}\mAt{97,74}{OH}\mAt{106,34.4}{O}\mAt{124,34.4}{P}\mAt{149,34.4}{OH}\mAt{119,14.7}{HO}\mAt{124,53}{O}\mLb{8.2,94.2}{C00620}
\end{scope}
% C00299
\begin{scope}[shift={(Urd.north west)}]\def\atsz{6.6}
 \mB{(15.8,47.3)--(35.2,34.8)}\mW{35.2,34.8}{56.6,41.5}\mB{(56.6,41.5)--(70.4,29.5)--(87.2,40.6)--(82,59.4)--(60.7,59.4)--cycle}\mH{60.7,59.4}{52,72}\mH{82,59.4}{90,72}\mW{87.2,40.6}{102.4,34}
 \mB{(102.4,34)--(108.6,15.2)}\mD{(108.6,15.2)--(127.9,9.4)}\mB{(127.9,9.4)--(143,21.9)}\mD{(143,21.9)--(161.2,16)}\mB{(143,21.9)--(142,42)--(120.4,48.7)--(102.4,34)}\mD{(120.4,48.7)--(115.3,67.4)}
 \mAt{15.8,47.3}{HO}\mAt{70.4,29.5}{O}\mAt{45,76.3}{HO}\mAt{95,76.3}{OH}\mAt{102.4,34}{N}\mAt{161.2,16}{O}\mAt{142,42}{NH}\mAt{115.3,67.4}{O}\mLb{7.7,94.2}{C00299}
\end{scope}
% C00009
\begin{scope}[shift={(Pi.north west)}]\def\atsz{7.4}
 \mD{(41.7,14.7)--(41.7,34)}\mB{(19.5,41.5)--(41.7,34)--(64.7,40.6)}\mB{(41.7,34)--(50,53)}
 \mAt{41.7,14.7}{O}\mAt{41.7,34}{P}\mAt{19.5,41.5}{HO}\mAt{64.7,40.6}{OH}\mAt{50,53}{OH}\mLb{8.8,73.2}{C00009}
\end{scope}
% C00013
\begin{scope}[shift={(PPi.north west)}]\def\atsz{7}
 \mB{(19,38)--(101,38)}\mD{(42.4,14.7)--(42.4,38)}\mD{(78.5,14.7)--(78.5,38)}\mB{(42.4,38)--(42.4,54)}\mB{(78.5,38)--(78.5,54)}
 \mAt{42.4,14.7}{O}\mAt{78.5,14.7}{O}\mAt{19,38}{HO}\mAt{42.4,38}{P}\mAt{59.4,38}{O}\mAt{78.5,38}{P}\mAt{101,38}{OH}\mAt{46.7,56}{OH}\mAt{83.5,56}{OH}\mLb{8.5,76.3}{C00013}
\end{scope}
% C00119
\begin{scope}[shift={(PRPP.north west)}]\def\atsz{7}
 \mB{(18.4,51.8)--(63.6,51.8)--(76.4,37)}\mD{(43.1,32.6)--(43.1,51.8)}\mB{(43.1,51.8)--(43.1,68)}\mW{76.4,37}{96.9,42.9}\mB{(96.9,42.9)--(111,30.4)--(128.7,42.9)--(122.3,61.6)--(101,61.6)--cycle}\mH{101,61.6}{92,72}\mH{122.3,61.6}{130,72}\mH{128.7,42.9}{147,36.2}
 \mB{(147,36.2)--(231,36.2)}\mB{(165.5,36.2)--(165.5,14.7)}\mB{(205.8,36.2)--(205.8,14.7)}\mD{(165.5,36.2)--(165.5,56.3)}\mD{(205.8,36.2)--(205.8,56.3)}
 \mAt{18.4,51.8}{HO}\mAt{43.1,51.8}{P}\mAt{63.6,51.8}{O}\mAt{43.1,32.6}{O}\mAt{48.8,71.9}{OH}\mAt{111,30.4}{O}\mAt{84.9,76.8}{HO}\mAt{138,76.8}{OH}\mAt{147,36.2}{O}\mAt{165.5,36.2}{P}\mAt{185.3,36.2}{O}\mAt{205.8,36.2}{P}\mAt{231,36.2}{OH}\mAt{160,14.7}{HO}\mAt{201,14.7}{HO}\mAt{165.5,56.3}{O}\mAt{205.8,56.3}{O}\mLb{8.5,96.9}{C00119}
\end{scope}
% C02188
\begin{scope}[shift={(Lys.north west)}]\def\atsz{7}
 \mB{(47.3,14.7)--(47.3,34.4)--(68,44.6)--(63.6,66)}\mD{(47.3,34.4)--(29.7,44.6)}\mW{63.6,48}{63.6,66}\mB{(63.6,66)--(47.3,74.6)--(29,68)--(12.7,73.7)}\mD{(47.3,74.6)--(47.3,93.8)}\mB{(63.6,66)--(80,73.7)--(97.6,64.7)--(116.7,73.7)--(134.4,64.7)--(157.7,74.6)}
 \mAt{47.3,14.7}{R}\mAt{29.7,44.6}{O}\mAt{68,44.6}{NH}\mAt{29,66}{N}\mAt{29,75}{H}\mAt{12.7,73.7}{R}\mAt{47.3,93.8}{O}\mAt{157.7,74.6}{\NHtwo}\mLb{7.8,113.8}{C02188}
\end{scope}
% C00121
\begin{scope}[shift={(RibF.north west)}]
 \mB{(16.5,35.3)--(32.5,18.8)}\mW{32.5,18.8}{51.7,25}\mB{(51.7,25)--(66.6,13.4)--(82.7,25)--(78.8,43.3)--(57.4,43.3)--cycle}\mH{57.4,43.3}{48,56}\mH{78.8,43.3}{88,56}\mH{82.7,25}{100,20}
 \mAt{16.5,35.3}{HO}\mAt{66.6,13.4}{O}\mAt{41.7,60.3}{HO}\mAt{93,60.3}{OH}\mAt{106.4,19.2}{OH}\mLb{8,78.1}{C00121}
\end{scope}
% C00106
\begin{scope}[shift={(Ura.north west)}]\def\atsz{7.4}
 \mD{(27.2,14.7)--(27.2,34.8)}\mB{(27.2,34.8)--(48.9,43.3)--(44,61.6)--(26.8,74)--(9.2,67.4)}\mD{(44,61.6)--(60.9,73.7)}\mD{(9.2,67.4)--(9.2,46)}\mB{(9.2,46)--(27.2,34.8)}
 \mAt{27.2,14.7}{O}\mAt{48.9,43.3}{NH}\mAt{60.9,73.7}{O}\mAt{26.8,74}{N}\mAt{26.8,85}{H}\mLb{8.4,104.5}{C00106}
\end{scope}
% C00309
\begin{scope}[shift={(Rbl.north west)}]
 \mB{(41.7,13.8)--(26.4,25.9)--(32,44.6)--(53.6,44.6)--(58.2,26.8)--cycle}\mH{32,44.6}{22,55}\mH{53.6,44.6}{62,56}\mB{(58.2,26.8)--(79.2,33)}\mH{58.2,26.8}{71.6,12.5}\mB{(71.6,12.5)--(93.4,20)}
 \mAt{41.7,13.8}{O}\mAt{16.5,59.8}{HO}\mAt{66.6,59.8}{OH}\mAt{79.2,33}{OH}\mAt{93.4,20}{OH}\mLb{8,78.6}{C00309}
\end{scope}
% C00199
\begin{scope}[shift={(RuP.north west)}]
 \mB{(16.4,43.5)--(38.8,33.6)--(54.5,44.4)--(74.5,32.8)--(89,44.4)--(106,32.8)--(122.4,43.5)--(166,43.5)}\mD{(54.5,44.4)--(54.5,63)}\mH{74.5,32.8}{75.8,16}\mW{89,44.4}{92,59}\mB{(142.4,43.5)--(146.7,23.2)}\mD{(142.4,43.5)--(142.4,63)}
 \mAt{16.4,43.5}{HO}\mAt{54.5,63}{O}\mAt{75.8,12.9}{OH}\mAt{92,63}{OH}\mAt{122.4,43.5}{O}\mAt{142.4,43.5}{P}\mAt{166,43.5}{OH}\mAt{146.7,23.2}{OH}\mAt{142.4,63}{O}\mLb{8.5,81.3}{C00199}
\end{scope}
% C15556
\begin{scope}[shift={(DHB.north west)}]
 \mB{(22.8,44.6)--(48.7,32.3)--(65.6,45.8)--(83.5,37)--(100,44.6)--(145,44.6)}\mD{(48.7,32.3)--(48.7,14.7)}\mB{(65.6,45.8)--(71,64.6)}\mB{(119,44.6)--(124.6,24.7)}\mD{(119,44.6)--(119,64.6)}
 \mAt{22.8,44.6}{H\textsubscript{3}C}\mAt{48.7,14.7}{O}\mAt{71,64.6}{OH}\mAt{100,44.6}{O}\mAt{119,44.6}{P}\mAt{145,44.6}{OH}\mAt{124.6,24.7}{OH}\mAt{119,64.6}{O}\mLb{9,84.6}{C15556}
\end{scope}
% C00007
\begin{scope}[shift={(Oxy.north west)}]\mD{(20.5,14)--(40,14)}\mAt{20.5,14}{O}\mAt{40,14}{O}\mLb{15,32.9}{C00007}\end{scope}
% C01182
\begin{scope}[shift={(RuBP.north west)},]\def\atsz{7.2}
 \mB{(56.3,14.7)--(55.4,40)}\mB{(30.8,40)--(86.2,40)}\mD{(55.4,40)--(56.3,65.2)}\mB{(30.8,40)--(9.4,50.5)--(9.4,162)--(29.9,174.4)--(86.2,174.4)}\mD{(9.4,76.7)--(34,77.5)}\mB{(9.4,101.6)--(39.3,101.6)}\mB{(9.4,126.3)--(39.3,126.3)}\mB{(55.4,174.4)--(60.7,150.4)}\mD{(55.4,174.4)--(55.4,199)}
 \mAt{42.9,14.7}{H}\mAt{56.3,14.7}{O}\mAt{30.8,40}{O}\mAt{55.4,40}{P}\mAt{86.2,40}{OH}\mAt{56.3,65.2}{O}\mAt{34,77.5}{O}\mAt{39.3,101.6}{OH}\mAt{39.3,126.3}{OH}\mAt{29.9,174.4}{O}\mAt{55.4,174.4}{P}\mAt{86.2,174.4}{OH}\mAt{60.7,150.4}{OH}\mAt{55.4,199}{O}\mLb{9,219}{C01182}
\end{scope}
% C00058
\begin{scope}[shift={(Fmt.north west)}]
 \mD{(37.5,13)--(37.5,34.6)}\mB{(17.4,41.7)--(37.5,34.6)--(55,41.7)}
 \mAt{37.5,13}{O}\mAt{17.4,41.7}{HO}\mAt{55,41.7}{H}\mLb{9.8,60}{C00058}
\end{scope}
% C00003 adjusted; C00988
\begin{scope}[shift={(PG.north west)}]
 \mD{(14.3,14.7)--(30.4,24.7)}\mB{(53.6,14.7)--(30.4,24.7)--(30.4,46.4)--(48,54)--(88,54)}\mB{(67,54)--(72.3,33.5)}\mB{(67,54)--(61.6,74.6)}
 \mAt{14.3,14.7}{O}\mAt{53.6,14.7}{OH}\mAt{48,54}{O}\mAt{67,54}{P}\mAt{88,54}{O}\mAt{72.3,33.5}{OH}\mAt{61.6,74.6}{HO}\mLb{8,94}{C00988}
\end{scope}
% C00197
\begin{scope}[shift={(TPG.north west)}]
 \mB{(16.5,42.9)--(37,32.3)--(55.8,42.9)--(72.3,33.5)--(89.3,42.9)--(132.6,42.9)}\mD{(37,32.3)--(37,12.9)}\mW{55.8,42.9}{59.4,58}\mB{(108.5,42.9)--(113,23.5)}\mD{(108.5,42.9)--(108.5,61.6)}
 \mAt{16.5,42.9}{HO}\mAt{37,12.9}{O}\mAt{59.4,62.8}{OH}\mAt{89.3,42.9}{O}\mAt{108.5,42.9}{P}\mAt{132.6,42.9}{OH}\mAt{113,23.5}{OH}\mAt{108.5,61.6}{O}\mLb{8,81}{C00197}
\end{scope}
\end{tikzpicture}
\end{document}
